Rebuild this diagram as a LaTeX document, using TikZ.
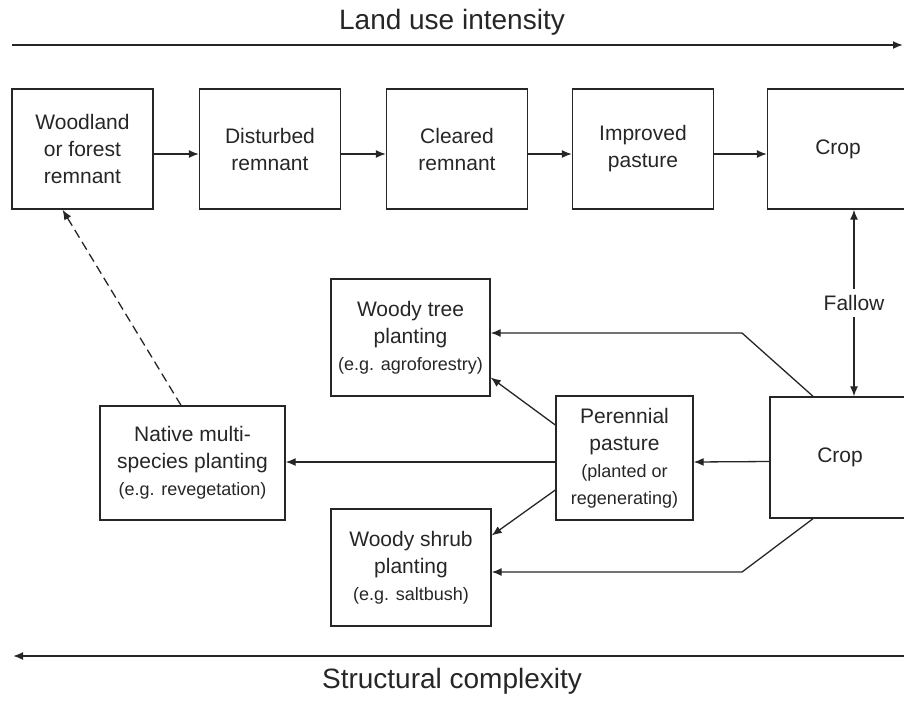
\documentclass[tikz,border=0pt]{standalone}
\usepackage{fontspec}
\setmainfont{Liberation Sans}
\usetikzlibrary{arrows.meta}
\tikzset{
  box/.style={draw, line width=1.4pt, inner sep=0pt, align=center,
    font=\fontsize{21}{27}\selectfont},
  toprow/.style={box, minimum width=141pt, minimum height=120pt},
  link/.style={line width=1.3pt, -{Latex[length=10pt,width=8pt]}},
  both/.style={line width=1.3pt, {Latex[length=10pt,width=8pt]}-{Latex[length=10pt,width=8pt]}},
  axis/.style={line width=1.8pt, -{Latex[length=10pt,width=8pt]}},
  heading/.style={font=\fontsize{28}{34}\selectfont},
}
\newcommand{\egtext}[1]{{\fontsize{18}{26}\selectfont #1}}
\begin{document}
\begin{tikzpicture}[x=1pt,y=-1pt,color=black!85]
      \useasboundingbox (0,0) rectangle (904,702);
      \node[heading] (lui) at (452,22) {Land use intensity};
      \node[heading] (sc) at (452,681) {Structural complexity};
      \coordinate (ls) at (12,45);
      \coordinate (le) at (903,45);
      \coordinate (rs) at (904,656);
      \coordinate (re) at (13,656);
      \draw[axis] (ls) -- (le);
      \draw[axis] (rs) -- (re);
      \node[toprow] (wood) at (82.5,149) {Woodland\\or forest\\remnant};
      \node[toprow] (dist) at (270,149) {Disturbed\\remnant};
      \node[toprow] (clear) at (457,149) {Cleared\\remnant};
      \node[toprow] (impr) at (643,149) {Improved\\pasture};
      \node[toprow] (crop) at (838,149) {Crop};
      \node[box, minimum width=140pt, minimum height=121pt] (cropb) at (840,457.5) {Crop};
      \node[box, minimum width=159pt, minimum height=117pt] (tree) at (410.5,337.5)
        {Woody tree\\planting\\\egtext{(e.g. agroforestry)}};
      \node[box, minimum width=160pt, minimum height=117pt] (shrub) at (411,567.5)
        {Woody shrub\\planting\\\egtext{(e.g. saltbush)}};
      \node[box, minimum width=137pt, minimum height=124pt] (pere) at (624.5,458)
        {Perennial\\pasture\\\egtext{(planted or}\\\egtext{regenerating)}};
      \node[box, minimum width=185pt, minimum height=114pt] (native) at (192.5,463)
        {Native multi-\\species planting\\\egtext{(e.g. revegetation)}};
      \coordinate (tb) at (742,333);
      \coordinate (sb) at (742,572);
      \begin{scope}[link]
        \draw ([yshift=-5pt]wood.east) -- ([yshift=-5pt]dist.west);
        \draw ([yshift=-5pt]dist.east) -- ([yshift=-5pt]clear.west);
        \draw ([yshift=-5pt]clear.east) -- ([yshift=-5pt]impr.west);
        \draw ([yshift=-5pt]impr.east) -- ([yshift=-5pt]crop.west);
        \draw ([xshift=-27pt]cropb.north) -- (tb) -- (tb -| tree.east);
        \draw ([xshift=-27pt]cropb.south) -- (sb) -- (sb -| shrub.east);
        \draw ([yshift=-4pt]cropb.west) -- ([yshift=-4pt]pere.east);
        \draw ([yshift=-4pt]pere.west) -- ([yshift=-4pt]pere.west -| native.east);
        \draw ([yshift=33pt]pere.west) -- ([yshift=-40pt]tree.east);
        \draw ([yshift=-32pt]pere.west) -- ([yshift=32pt]shrub.east);
        \draw[dash pattern=on 9pt off 5pt] ([xshift=-11.5pt]native.north) -- ([xshift=-20pt]wood.south);
      \end{scope}
      \draw[both] ([xshift=16pt]crop.south) -- node[fill=white, inner sep=6pt, font=\fontsize{21}{27}\selectfont] (fallow) {Fallow} ([xshift=14pt]cropb.north);
    \end{tikzpicture}
\end{document}
